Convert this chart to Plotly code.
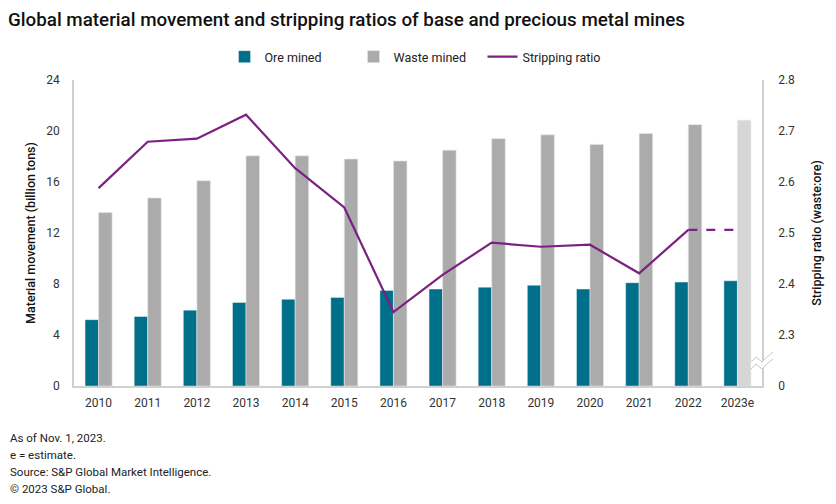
import plotly.graph_objects as go

years = ["2010", "2011", "2012", "2013", "2014", "2015", "2016", "2017",
         "2018", "2019", "2020", "2021", "2022", "2023e"]
ore_mined = [5.2, 5.45, 5.95, 6.55, 6.8, 6.95, 7.5, 7.6, 7.75, 7.9, 7.6, 8.1, 8.15, 8.25]
waste_mined = [13.6, 14.75, 16.1, 18.05, 18.05, 17.8, 17.65, 18.5, 19.4, 19.7, 18.95, 19.8, 20.5, 20.85]
stripping_ratio = [2.588, 2.679, 2.685, 2.732, 2.627, 2.55, 2.345, 2.418, 2.481, 2.473,
                   2.477, 2.421, 2.506, 2.506]

left_ticks = [0, 4, 8, 12, 16, 20, 24]
right_tickvals = [2.2, 2.3, 2.4, 2.5, 2.6, 2.7, 2.8]
right_ticktext = ["0", "2.3", "2.4", "2.5", "2.6", "2.7", "2.8"]

footnotes = ["As of Nov. 1, 2023.", "e = estimate.",
             "Source: S&P Global Market Intelligence.", "© 2023 S&P Global."]

ORE = "#006F89"
WASTE = "#ABABAB"
WASTE_EST = "#D6D6D6"
LINE = "#7A2182"
AXIS = "#D0D0D0"
FONT = "Roboto"

# page has an 8px body margin; figure is sized/offset to compensate
OFF = 8
W, H = 836 - OFF, 504 - OFF
L, R, T, B = 74 - OFF, 74, 80 - OFF, 118
pw, ph = W - L - R, H - T - B

fig = go.Figure()
fig.add_trace(go.Bar(x=years, y=ore_mined, name="Ore mined", marker_color=ORE,
                     marker_line=dict(color="rgba(255,255,255,0.5)", width=0.8)))
fig.add_trace(go.Bar(x=years, y=waste_mined, name="Waste mined",
                     marker_color=[WASTE] * (len(years) - 1) + [WASTE_EST],
                     marker_line=dict(color="rgba(230,230,230,0.8)", width=0.8)))
fig.add_trace(go.Scatter(x=years[:-1], y=stripping_ratio[:-1], name="Stripping ratio",
                         mode="lines", line=dict(color=LINE, width=2.2), yaxis="y2"))
fig.add_trace(go.Scatter(x=years[-2:], y=stripping_ratio[-2:], name="Stripping ratio (e)",
                         mode="lines", line=dict(color=LINE, width=2.2, dash="dash"),
                         yaxis="y2", showlegend=False))

# helper: page pixel -> paper coords
def px(xp, yp):
    return (xp - OFF - L) / pw, (H - B - (yp - OFF)) / ph

# axis break marker on the right axis
pts_top = [(751, 362), (756, 357), (762, 362), (767, 357), (773, 352)]
pts_bot = [(751, 369), (756, 364), (762, 369), (767, 364), (773, 359)]
fill = pts_top + pts_bot[::-1]
shapes = []
path = "M " + " L ".join(f"{px(a,b)[0]},{px(a,b)[1]}" for a, b in fill) + " Z"
shapes.append(dict(type="path", xref="paper", yref="paper", path=path,
                   fillcolor="white", line=dict(width=0)))
for pts in (pts_top, pts_bot):
    p = "M " + " L ".join(f"{px(a,b)[0]},{px(a,b)[1]}" for a, b in pts)
    shapes.append(dict(type="path", xref="paper", yref="paper", path=p,
                       line=dict(color="#C8C8C8", width=1)))

annotations = []
for i, t in enumerate(footnotes):
    xx, yy = px(8, 438 + i * 17)
    annotations.append(dict(text=t, xref="paper", yref="paper", x=xx, y=yy,
                            xanchor="left", yanchor="middle", showarrow=False,
                            font=dict(family=FONT, size=11.5, color="#222")))

fig.update_layout(
    width=W, height=H, margin=dict(l=L, r=R, t=T, b=B, autoexpand=False),
    paper_bgcolor="white", plot_bgcolor="white",
    font=dict(family=FONT, size=12, color="#333"),
    title=dict(text="Global material movement and stripping ratios of base and precious metal mines",
               x=0, xanchor="left", xref="container", y=1 - (19 - OFF) / H, yanchor="middle",
               font=dict(family=FONT, size=18.8, color="#111", weight=500)),
    barmode="group", bargap=0.45, bargroupgap=0,
    legend=dict(orientation="h", x=0.5, xanchor="center", y=px(0, 57)[1],
                yanchor="middle", font=dict(family=FONT, size=12.5, color="#222"),
                traceorder="normal", entrywidth=84, entrywidthmode="pixels"),
    xaxis=dict(showline=True, linecolor=AXIS, linewidth=1.5, ticks="", automargin=False,
               ticklabelstandoff=5, tickfont=dict(size=12, color="#333"), showgrid=False),
    yaxis=dict(range=[0, 24], tickvals=left_ticks, showgrid=False, zeroline=False,
               showline=True, linecolor=AXIS, linewidth=1.5, ticks="", automargin=False,
               ticklabelstandoff=10, tickfont=dict(size=12, color="#333"),
               title=dict(text="Material movement (billion tons)",
                          font=dict(size=12.5, color="#111", weight=500), standoff=8)),
    yaxis2=dict(range=[2.2, 2.8], tickvals=right_tickvals, ticktext=right_ticktext,
                overlaying="y", side="right", showgrid=False, zeroline=False,
                showline=True, linecolor=AXIS, linewidth=1.5, ticks="", automargin=False,
                ticklabelstandoff=12, tickfont=dict(size=12, color="#333"),
                title=dict(text="Stripping ratio (waste:ore)",
                           font=dict(size=12.5, color="#111", weight=500), standoff=18)),
    shapes=shapes, annotations=annotations,
)

fig.write_html("out.html")
